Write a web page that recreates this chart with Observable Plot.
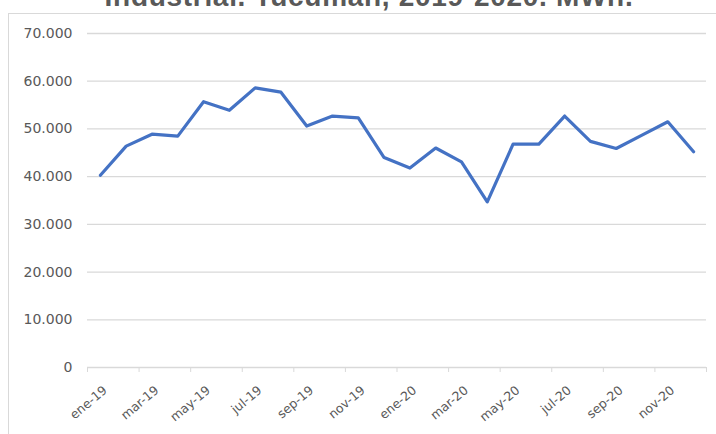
<!DOCTYPE html>
<html><head><meta charset="utf-8">
<script src="https://cdn.jsdelivr.net/npm/d3@7"></script>
<script src="https://cdn.jsdelivr.net/npm/@observablehq/plot@0.6"></script>
<style>
body{margin:0;background:#fff}
#wrap{position:relative;width:716px;height:434px;overflow:hidden;background:#fff}
#title{position:absolute;left:0;width:738px;top:-17px;text-align:center;font:bold 28px "Liberation Sans",Arial,sans-serif;line-height:28px;color:#595959;letter-spacing:0.7px;white-space:nowrap}
#frame{position:absolute;left:8px;top:13px;width:800px;height:500px;border-top:1px solid #d9d9d9;border-left:1px solid #d9d9d9}
#chart{position:absolute;left:0;top:0}
</style></head>
<body>
<div id="wrap">
  <div id="frame"></div>
  <div id="title">Industrial. Tucumán, 2019-2020. MWh.</div>
  <div id="chart"></div>
</div>
<script>
const months = ["ene-19","feb-19","mar-19","abr-19","may-19","jun-19","jul-19","ago-19","sep-19","oct-19","nov-19","dic-19",
                "ene-20","feb-20","mar-20","abr-20","may-20","jun-20","jul-20","ago-20","sep-20","oct-20","nov-20","dic-20"];
const mwh = [40300, 46400, 48900, 48500, 55700, 53900, 58600, 57700, 50600, 52700, 52300, 44000,
             41800, 46000, 43100, 34700, 46800, 46800, 52700, 47400, 45900, 48700, 51500, 45200];
const yTicks = [0, 10000, 20000, 30000, 40000, 50000, 60000, 70000];

const data = months.map((m, i) => ({i, m, v: mwh[i]}));
const boundaries = d3.range(-0.5, months.length, 2);
const labelIdx = d3.range(0, months.length, 2);
const fmt = d => d3.format(",")(d).replace(/,/g, ".");

const chart = Plot.plot({
  width: 716, height: 434,
  marginLeft: 87, marginRight: 10, marginTop: 33, marginBottom: 67,
  x: {type: "linear", domain: [-0.5, months.length - 0.5]},
  y: {domain: [0, 70000]},
  style: {fontFamily: "'DejaVu Sans', sans-serif", color: "#595959", background: "transparent", overflow: "visible"},
  marks: [
    Plot.ruleY(yTicks, {stroke: "#d9d9d9", strokeWidth: 1.3}),
    Plot.axisY({ticks: yTicks, tickSize: 0, tickPadding: 15, tickFormat: fmt, fontSize: 14, label: null}),
    Plot.axisX({ticks: boundaries, tickSize: 5, tickFormat: () => "", stroke: "#d9d9d9", label: null}),
    Plot.axisX({ticks: labelIdx, tickSize: 0, tickPadding: 21, tickRotate: -40, dx: 5, tickFormat: i => months[i], fontSize: 12.5, label: null}),
    Plot.line(data, {x: "i", y: "v", stroke: "#4472C4", strokeWidth: 3.2, strokeLinejoin: "round", strokeLinecap: "round"})
  ]
});
document.getElementById("chart").appendChild(chart);
</script>
</body></html>
